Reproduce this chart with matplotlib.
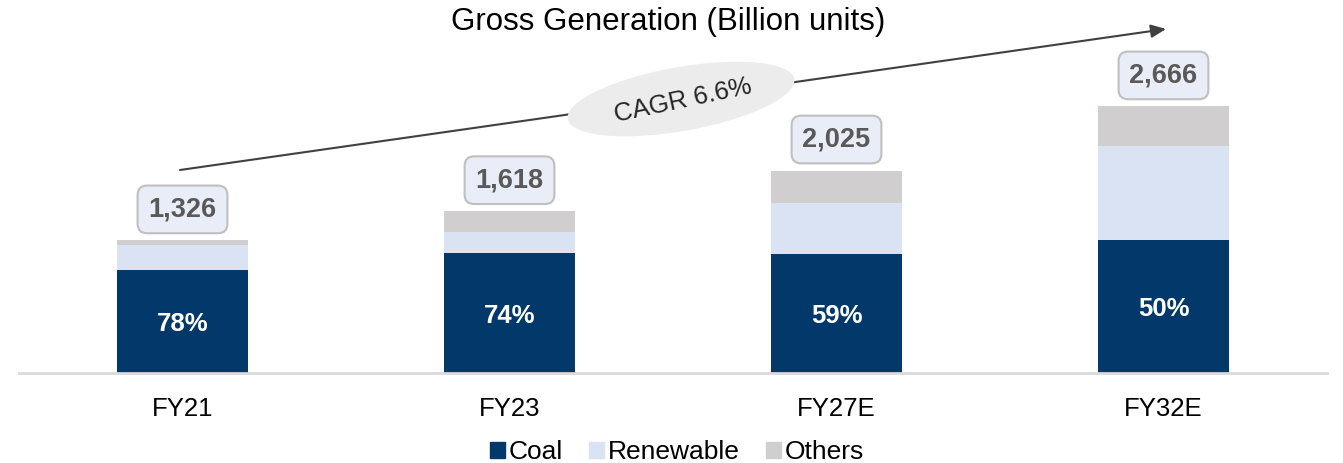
import numpy as np
import matplotlib
matplotlib.use('Agg')
import matplotlib.pyplot as plt
from matplotlib.patches import Ellipse, Patch

plt.rcParams['font.family'] = ['Liberation Sans', 'DejaVu Sans']

years = ['FY21', 'FY23', 'FY27E', 'FY32E']
totals = [1326, 1618, 2025, 2666]
coal = [1034, 1197, 1195, 1333]
renewable = [243, 210, 510, 933]
others = [49, 211, 320, 400]
coal_share = ['78%', '74%', '59%', '50%']
cagr_label = 'CAGR 6.6%'

c_coal = '#02386a'
c_ren = '#dae3f3'
c_oth = '#d0cece'

W, H = 1343, 463
fig = plt.figure(figsize=(W / 100, H / 100), dpi=100)

# main axes: baseline at ~373px, 10 units per px
ax = fig.add_axes([19 / W, (H - 373) / H, 1308 / W, 340 / H])
x = np.arange(len(years))
bw = 0.4
ax.bar(x, coal, bw, color=c_coal, label='Coal')
ax.bar(x, renewable, bw, bottom=coal, color=c_ren, label='Renewable')
bot2 = np.array(coal) + np.array(renewable)
ax.bar(x, others, bw, bottom=bot2, color=c_oth, label='Others')

ax.set_xlim(-0.5, 3.5)
ax.set_ylim(0, 3400)
for s in ['top', 'right', 'left']:
    ax.spines[s].set_visible(False)
ax.spines['bottom'].set_color('#d9d9d9')
ax.spines['bottom'].set_linewidth(2)
ax.set_yticks([])
ax.set_xticks(x)
ax.set_xticklabels(years, fontsize=18.5)
ax.tick_params(axis='x', length=0, pad=17)

for i in range(len(years)):
    ax.text(x[i], coal[i] / 2 - 30, coal_share[i], ha='center', va='center',
            color='white', fontsize=18.5, fontweight='bold')
    ax.text(x[i], totals[i] + 310, '{:,}'.format(totals[i]), ha='center', va='center',
            color='#595959', fontsize=19.5, fontweight='bold',
            bbox=dict(boxstyle='round,pad=0.4,rounding_size=0.35', fc='#e9edf7',
                      ec='#bfbfbf', lw=1.5))

# overlay in pixel units for the CAGR arrow
ov = fig.add_axes([0, 0, 1, 1], zorder=5)
ov.set_xlim(0, W)
ov.set_ylim(0, H)
ov.axis('off')
ov.patch.set_alpha(0)
ov.annotate('', xy=(1166, H - 29), xytext=(180, H - 170),
            arrowprops=dict(arrowstyle='-|>,head_length=0.9,head_width=0.4',
                            color='#404040', lw=1.5, shrinkA=0, shrinkB=0))
ov.add_patch(Ellipse((681, H - 99), 230, 64, angle=10, fc='#ececec', ec='none', zorder=3))
ov.text(683, H - 101, cagr_label, ha='center', va='center', rotation=12,
        fontsize=18.5, color='#262626', zorder=4)

fig.text(668 / W, 1 - 22 / H, 'Gross Generation (Billion units)', ha='center', va='center',
         fontsize=22.5, color='black')

handles = [Patch(color=c_coal), Patch(color=c_ren), Patch(color=c_oth)]
fig.legend(handles, ['Coal', 'Renewable', 'Others'], loc='center',
           bbox_to_anchor=(677 / W, 1 - 452 / H), ncol=3, frameon=False,
           fontsize=19, handlelength=0.55, handleheight=0.55, handletextpad=0.15,
           columnspacing=1.0)

plt.savefig('out.png', dpi=100)
plt.close()
